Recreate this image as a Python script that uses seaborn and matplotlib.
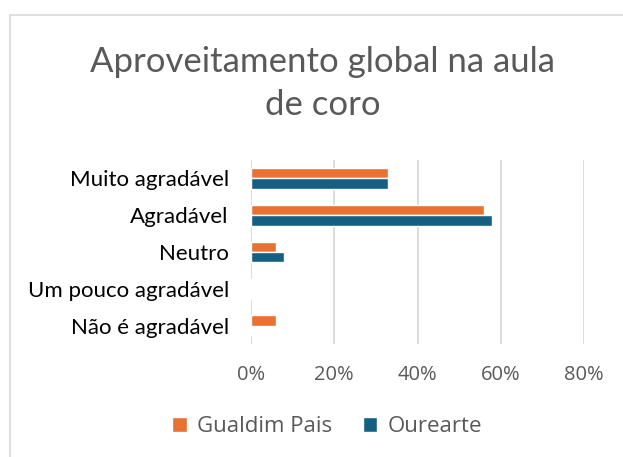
import matplotlib
matplotlib.use("Agg")
import matplotlib.pyplot as plt
import seaborn as sns
import pandas as pd
from matplotlib.ticker import PercentFormatter, MultipleLocator
from matplotlib.lines import Line2D
from matplotlib.patches import Patch

categories = ["Muito agradável", "Agradável", "Neutro", "Um pouco agradável", "Não é agradável"]
gualdim_pais = [0.33, 0.56, 0.06, 0.0, 0.06]
ourearte = [0.33, 0.58, 0.08, 0.0, 0.0]
series_names = ["Gualdim Pais", "Ourearte"]
colors = ["#E97132", "#156082"]

rows = []
for c, g, o in zip(categories, gualdim_pais, ourearte):
    rows.append({"cat": c, "serie": series_names[0], "val": g})
    rows.append({"cat": c, "serie": series_names[1], "val": o})
df = pd.DataFrame(rows)

sns.set_theme(style="white")
plt.rcParams["font.family"] = ["Lato", "DejaVu Sans"]

fig = plt.figure(figsize=(6.23, 4.57), dpi=100)
ax = fig.add_axes([251/623, 1-344/457, (584-251)/623, (344-160)/457])

sns.barplot(data=df, y="cat", x="val", hue="serie", order=categories,
            hue_order=series_names, palette=colors, width=0.56,
            orient="h", ax=ax, legend=False, saturation=1)

ax.set_xlim(0, 0.8)
ax.xaxis.set_major_locator(MultipleLocator(0.2))
ax.xaxis.set_major_formatter(PercentFormatter(1.0, decimals=0))
ax.grid(axis="x", color="#d9d9d9", linewidth=1.3)
ax.set_axisbelow(True)
for s in ax.spines.values():
    s.set_visible(False)
ax.set_xlabel("")
ax.set_ylabel("")
ax.tick_params(axis="x", labelsize=14.5, colors="#595959", pad=15, length=0)
ax.tick_params(axis="y", labelsize=16, colors="#000000", pad=16, length=0)
for lab in ax.get_xticklabels():
    lab.set_family(["Open Sans", "DejaVu Sans"])

fig.text(0.518, 1-62/457, "Aproveitamento global na aula", ha="center", va="center",
         fontsize=25, color="#595959")
fig.text(0.518, 1-105/457, "de coro", ha="center", va="center",
         fontsize=25, color="#595959")

handles = [Patch(facecolor=colors[0], label=series_names[0]),
           Patch(facecolor=colors[1], label=series_names[1])]
leg = fig.legend(handles=handles, loc="center", bbox_to_anchor=(0.525, 1-427/457),
                 ncol=2, frameon=False, handlelength=0.65, handleheight=0.65,
                 columnspacing=1.4, handletextpad=0.45,
                 prop={"family": ["Open Sans", "DejaVu Sans"], "size": 16})
for t in leg.get_texts():
    t.set_color("#595959")

fig.add_artist(Line2D([9.5/623, 1], [1-15/457, 1-15/457], color="#d9d9d9", linewidth=1.2))
fig.add_artist(Line2D([9.5/623, 9.5/623], [0, 1-15/457], color="#d9d9d9", linewidth=1.2))

fig.savefig("out.png", dpi=100)
